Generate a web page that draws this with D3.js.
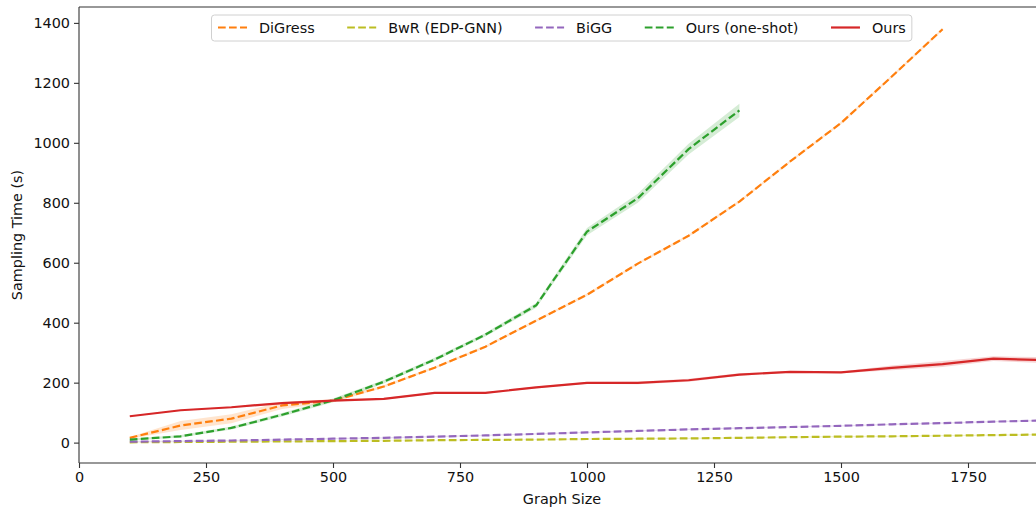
<!DOCTYPE html>
<html>
<head>
<meta charset="utf-8">
<script src="https://cdn.jsdelivr.net/npm/d3@7"></script>
<style>
  body { margin: 0; background: #fff; }
  svg { display: block; font-family: "DejaVu Sans", sans-serif; }
</style>
</head>
<body>
<div id="container"></div>
<script>
// graph sizes (x values)
const sizes = [100, 200, 300, 400, 500, 600, 700, 800, 900, 1000, 1100, 1200, 1300, 1400, 1500, 1600, 1700, 1800, 1900]

// sampling times (s)
const digress     = [16, 57, 80, 124, 140, 187, 250, 320, 407, 493, 597, 690, 804, 938, 1066, 1221, 1379]
const digressStd  = [3, 15, 15, 12, 5, 4, 4, 4, 4, 4, 4, 4, 4, 4, 4, 4, 4]
const bwr         = [1, 2, 3, 4, 5, 6, 8, 9, 10, 12, 13, 14, 16, 18, 20, 21, 23, 25, 27]
const bwrStd      = [1, 1, 1, 1, 1, 1, 1, 1, 1, 2, 2, 2, 2, 2, 2, 2, 2, 2, 2]
const bigg        = [3, 5, 7, 10, 13, 16, 20, 24, 29, 34, 39, 44, 48, 52, 56, 61, 65, 70, 74]
const biggStd     = [2, 2, 2, 2, 2, 2, 2, 2, 2, 2, 2, 2, 2, 2, 2, 2, 2, 2, 2]
const oneShot     = [10, 21, 49, 93, 141, 203, 277, 360, 458, 704, 815, 979, 1108]
const oneShotStd  = [3, 4, 5, 6, 6, 6, 6, 6, 8, 12, 15, 18, 22]
const ours        = [88, 108, 118, 132, 140, 146, 166, 166, 184, 199, 199, 208, 227, 236, 234, 249, 262, 280, 275]
const oursStd     = [2, 2, 2, 3, 3, 3, 3, 3, 3, 3, 4, 5, 4, 3, 3, 8, 10, 8, 10]

const seriesNames = ["DiGress", "BwR (EDP-GNN)", "BiGG", "Ours (one-shot)", "Ours"]
const xTicks = [0, 250, 500, 750, 1000, 1250, 1500, 1750]
const yTicks = [0, 200, 400, 600, 800, 1000, 1200, 1400]

const series = [
    { name: seriesNames[0], mean: digress, std: digressStd, color: "#ff7f0e", dashed: true },
    { name: seriesNames[1], mean: bwr, std: bwrStd, color: "#bcbd22", dashed: true },
    { name: seriesNames[2], mean: bigg, std: biggStd, color: "#9467bd", dashed: true },
    { name: seriesNames[3], mean: oneShot, std: oneShotStd, color: "#2ca02c", dashed: true },
    { name: seriesNames[4], mean: ours, std: oursStd, color: "#d62728", dashed: false },
]

const W = 1036, H = 509
const margin = { top: 7, left: 79, bottom: 46 }
const plotH = H - margin.top - margin.bottom
const DASH = "7.7,3.3"
const FONT = "14.4px"

const svg = d3.select("#container")
    .append("svg")
    .attr("width", W)
    .attr("height", H)

// x axis runs past the right edge of the picture (figure is cropped)
const x = d3.scaleLinear()
    .domain([0, 2000])
    .range([margin.left, margin.left + 2000 * 0.508])

const y = d3.scaleLinear()
    .domain([-68, 1453])
    .range([margin.top + plotH, margin.top])

svg.append("defs").append("clipPath")
    .attr("id", "plot-clip")
    .append("rect")
    .attr("x", margin.left)
    .attr("y", margin.top)
    .attr("width", W - margin.left)
    .attr("height", plotH)

const plot = svg.append("g").attr("clip-path", "url(#plot-clip)")

series.forEach(s => {
    const pts = s.mean.map((m, i) => ({ x: sizes[i], m, lo: m - s.std[i], hi: m + s.std[i] }))

    /* BAND */
    plot.append("path")
        .datum(pts)
        .attr("fill", s.color)
        .attr("fill-opacity", 0.2)
        .attr("d", d3.area()
            .x(d => x(d.x))
            .y0(d => y(d.lo))
            .y1(d => y(d.hi)))

    /* LINE */
    plot.append("path")
        .datum(pts)
        .attr("fill", "none")
        .attr("stroke", s.color)
        .attr("stroke-width", 2.2)
        .attr("stroke-dasharray", s.dashed ? DASH : null)
        .attr("stroke-linejoin", "round")
        .attr("d", d3.line()
            .x(d => x(d.x))
            .y(d => y(d.m)))
})

/* AXES */
const xAxis = svg.append("g")
    .attr("transform", `translate(0, ${margin.top + plotH})`)
    .call(d3.axisBottom(x).tickValues(xTicks).tickSize(5).tickPadding(4).tickFormat(d3.format("d")))

const yAxis = svg.append("g")
    .attr("transform", `translate(${margin.left}, 0)`)
    .call(d3.axisLeft(y).tickValues(yTicks).tickSize(5).tickPadding(4).tickFormat(d3.format("d")))

;[xAxis, yAxis].forEach(a => {
    a.select(".domain").remove()
    a.selectAll(".tick line").attr("stroke", "#333").attr("stroke-width", 1.1)
    a.selectAll(".tick text")
        .attr("fill", "#111")
        .style("font-size", FONT)
        .style("font-family", "DejaVu Sans")
})

/* SPINES */
svg.append("line")
    .attr("x1", margin.left).attr("x2", W)
    .attr("y1", margin.top + plotH).attr("y2", margin.top + plotH)
    .attr("stroke", "#333").attr("stroke-width", 1.1)
svg.append("line")
    .attr("x1", margin.left).attr("x2", W)
    .attr("y1", margin.top).attr("y2", margin.top)
    .attr("stroke", "#333").attr("stroke-width", 1.1)
svg.append("line")
    .attr("x1", margin.left).attr("x2", margin.left)
    .attr("y1", margin.top).attr("y2", margin.top + plotH)
    .attr("stroke", "#333").attr("stroke-width", 1.1)

/* AXIS LABELS */
svg.append("text")
    .attr("x", 562)
    .attr("y", 504)
    .attr("text-anchor", "middle")
    .style("font-size", FONT)
    .attr("fill", "#111")
    .text("Graph Size")

svg.append("text")
    .attr("transform", `translate(22, ${margin.top + plotH / 2}) rotate(-90)`)
    .attr("text-anchor", "middle")
    .style("font-size", FONT)
    .attr("fill", "#111")
    .text("Sampling Time (s)")

/* LEGEND */
const legend = svg.append("g")
const legendBox = legend.append("rect")
    .attr("rx", 3)
    .attr("fill", "white")
    .attr("fill-opacity", 0.8)
    .attr("stroke", "#d0d0d0")
    .attr("stroke-width", 1)

const colGap = 32.5
let lx = 218
const ly = 27.5
series.forEach(s => {
    legend.append("line")
        .attr("x1", lx).attr("x2", lx + 29)
        .attr("y1", ly).attr("y2", ly)
        .attr("stroke", s.color)
        .attr("stroke-width", 2.2)
        .attr("stroke-dasharray", s.dashed ? DASH : null)
    const t = legend.append("text")
        .attr("x", lx + 41)
        .attr("y", ly + 5)
        .style("font-size", FONT)
        .attr("fill", "#111")
        .text(s.name)
    lx += 41 + t.node().getComputedTextLength() + colGap
})
legendBox
    .attr("x", 211.5)
    .attr("y", 15)
    .attr("width", lx - colGap + 6 - 211.5)
    .attr("height", 26)
</script>
</body>
</html>
